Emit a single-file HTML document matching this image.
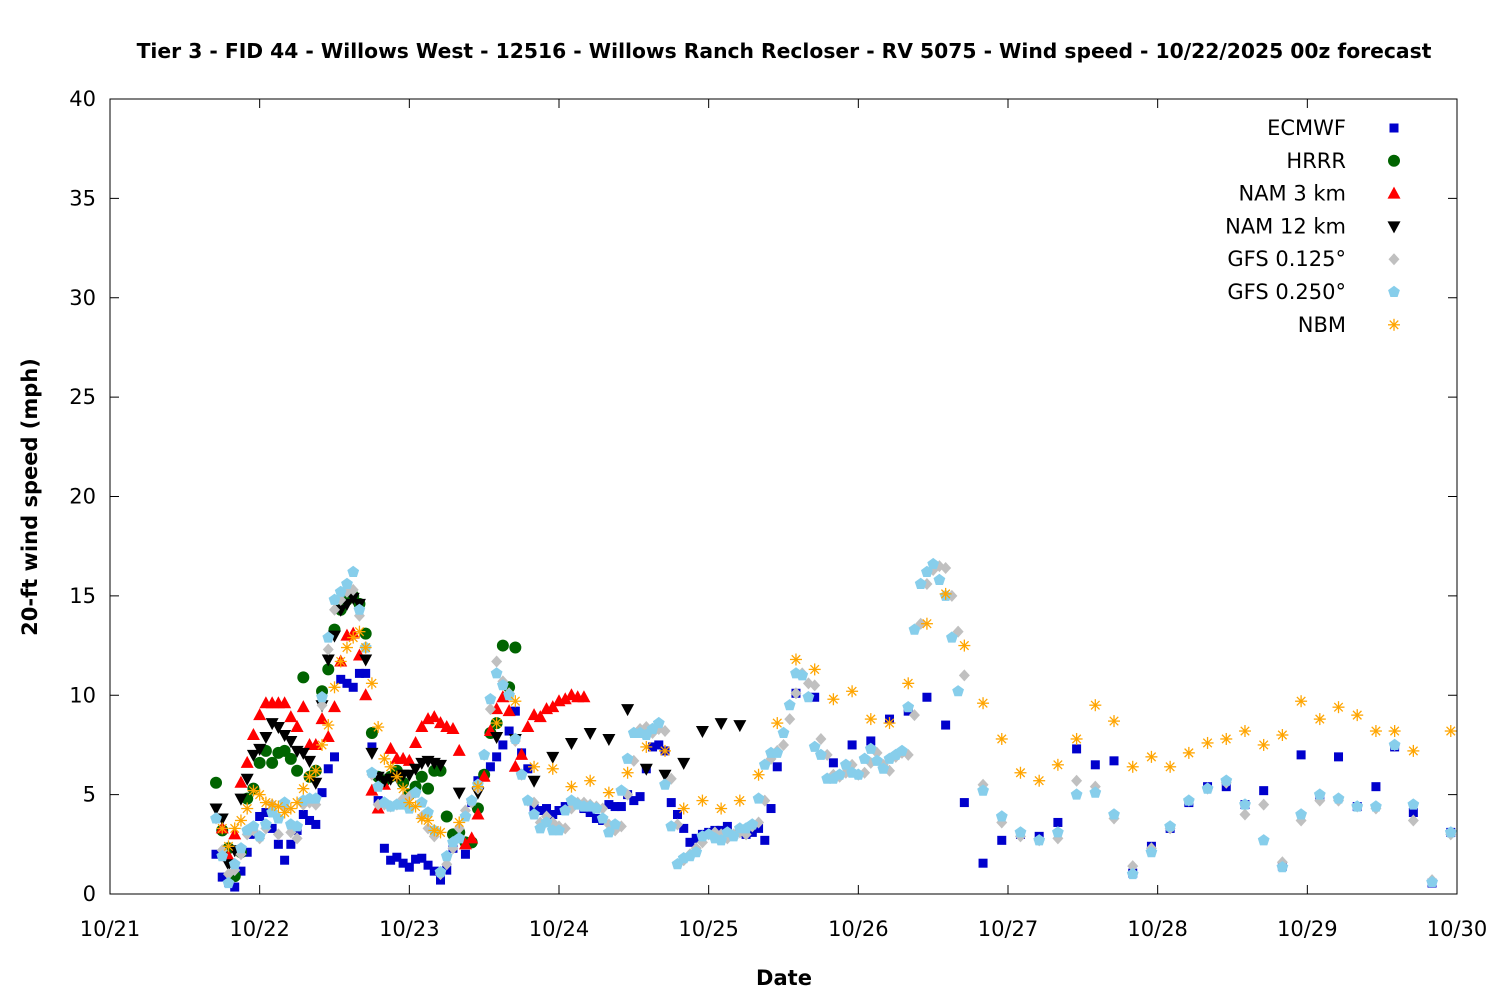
<!DOCTYPE html>
<html><head><meta charset="utf-8"><style>
body{margin:0;background:#fff}
svg text{font-family:"DejaVu Sans","Liberation Sans",sans-serif}
</style></head><body>
<svg id="chart" width="1500" height="1000" viewBox="0 0 1500 1000" xmlns="http://www.w3.org/2000/svg">
<rect width="1500" height="1000" fill="#fff"/>
<text x="784" y="58" font-size="20.3" font-weight="bold" text-anchor="middle">Tier 3 - FID 44 - Willows West - 12516 - Willows Ranch Recloser - RV 5075 - Wind speed - 10/22/2025 00z forecast</text>
<text transform="translate(37,497) rotate(-90)" font-size="21" font-weight="bold" text-anchor="middle">20-ft wind speed (mph)</text>
<text x="784" y="985" font-size="21" font-weight="bold" text-anchor="middle">Date</text>
<g id="axes"></g>
<g id="marks"></g>
<g id="legend"></g>
<rect x="110" y="99" width="1347" height="795" fill="none" stroke="#000" stroke-width="1"/>
</svg>
<script>
const xTickLabels=["10/21","10/22","10/23","10/24","10/25","10/26","10/27","10/28","10/29","10/30"];
const yTickValues=[0,5,10,15,20,25,30,35,40];
const seriesNames=["ECMWF","HRRR","NAM 3 km","NAM 12 km","GFS 0.125°","GFS 0.250°","NBM"];
const ecmwfHourlyStart=17;
const ecmwfHourly=[2.0,0.85,0.6,0.35,1.15,2.1,3.0,3.9,4.1,3.3,2.5,1.7,2.5,3.2,4.0,3.7,3.5,5.1,6.3,6.9,10.8,10.6,10.4,11.1,11.1,7.4,4.7,2.3,1.7,1.85,1.55,1.35,1.75,1.8,1.45,1.15,0.7,1.2,2.3,3.1,2.0,4.6,5.7,6.0,6.4,6.9,7.5,8.2,9.2,7.1,6.3,4.3,4.2,4.3,4.0,4.2,4.4,4.6,4.5,4.3,4.1,3.8,3.7,4.5,4.4,4.4,5.0,4.7,4.9,6.3,7.4,7.5,7.2,4.6,4.0,3.3,2.6,2.8,3.0,3.1,3.2,3.2,3.4,3.0,3.1,3.0,3.1,3.3,2.7,4.3,6.4];
const ecmwf3hStart=110;
const ecmwf3h=[10.1,9.9,6.6,7.5,7.7,8.8,9.2,9.9,8.5,4.6,1.55,2.7,3.0,2.9,3.6,7.3,6.5,6.7,1.05,2.4,3.3,4.6,5.4,5.4,4.5,5.2,1.4,7.0,4.9,6.9,4.4,5.4,7.4,4.1,0.55,3.1];
const hrrrHourlyStart=17;
const hrrrHourly=[5.6,3.2,2.3,0.9,2.1,4.8,5.3,6.6,7.2,6.6,7.1,7.2,6.8,6.2,10.9,5.9,6.2,10.2,11.3,13.3,14.3,14.8,15.0,14.6,13.1,8.1,5.9,5.7,5.9,6.2,5.6,5.0,5.4,5.9,5.3,6.2,6.2,3.9,3.0,3.1,2.6,2.6,4.3,6.0,8.1,8.6,12.5,10.4,12.4];
const nam3HourlyStart=18;
const nam3Hourly=[3.3,1.9,3.0,5.6,6.6,8.0,9.0,9.6,9.6,9.6,9.6,8.9,8.4,9.4,7.5,7.5,8.8,7.9,9.4,11.7,13.0,13.1,12.0,10.0,5.2,4.3,5.5,7.3,6.8,6.8,6.7,7.6,8.4,8.8,8.9,8.6,8.4,8.3,7.2,2.5,2.8,4.0,5.9,8.2,9.3,9.9,9.2,6.4,7.0,8.4,9.0,8.9,9.3,9.4,9.7,9.8,10.0,9.9,9.9];
const nam12HourlyStart=17;
const nam12Hourly=[4.3,3.8,1.5,2.2,4.8,5.8,7.0,7.3,7.9,8.6,8.4,8.0,7.7,7.2,7.1,6.7,5.6,9.5,11.8,13.0,14.3,14.6,14.9,14.6,11.8,7.1,5.9,5.7,5.8,5.9,6.0,6.0,6.3,6.6,6.7,6.6,6.5];
const nam123hStart=56;
const nam123h=[5.1,5.1,7.9,7.8,5.7,6.9,7.6,8.1,7.8,9.3,6.3,6.0,6.6,8.2,8.6,8.5];
const gfs125HourlyStart=17;
const gfs125Hourly=[3.8,2.2,1.0,1.2,2.0,3.0,3.2,2.8,3.3,4.5,3.0,4.4,3.1,2.8,4.5,4.6,4.5,9.5,12.3,14.3,14.8,15.2,15.3,14.0,12.4,6.0,4.5,4.5,4.4,4.5,4.8,4.9,5.1,3.9,3.3,2.9,1.0,1.5,2.3,3.3,4.2,4.6,5.3,7.0,9.3,11.7,10.7,10.1,7.7,6.0,4.7,4.6,3.6,3.9,3.6,3.4,3.3,4.3,4.6,4.6,4.5,4.4,4.3,3.5,3.2,3.4,5.0,6.7,8.3,8.4,8.1,8.3,8.2,5.8,3.5,1.7,2.0,2.3,2.6,3.0,3.1,3.0,2.8,3.0,3.1,3.0,3.4,3.6,4.7,6.8,7.2,7.5,8.8,10.1,11.1,10.6,10.5,7.8,7.0,6.0,5.9,6.1,6.5,6.0,6.1,6.6,7.1,6.5,6.2,6.9,7.1,7.0,9.0,13.6,15.6,16.3,16.5,16.4,15.0,13.2,11.0];
const gfs1253hStart=140;
const gfs1253h=[5.5,3.6,2.9,2.7,2.8,5.7,5.4,3.8,1.4,2.3,3.3,4.7,5.3,5.6,4.0,4.5,1.6,3.7,4.7,4.7,4.4,4.3,7.5,3.7,0.7,3.0];
const gfs25HourlyStart=17;
const gfs25Hourly=[3.8,1.9,0.55,1.5,2.3,3.2,3.4,2.9,3.5,4.1,3.8,4.6,3.5,3.4,4.7,4.8,4.8,9.9,12.9,14.8,15.2,15.6,16.2,14.3,12.4,6.1,5.4,4.6,4.4,4.5,4.5,4.3,5.1,4.6,4.1,3.2,1.1,1.9,2.6,2.8,3.9,4.7,5.5,7.0,9.8,11.1,10.5,10.0,7.8,6.0,4.7,4.0,3.3,3.6,3.2,3.2,4.2,4.7,4.5,4.4,4.4,4.3,3.8,3.1,3.5,5.2,6.8,8.1,8.1,8.0,8.3,8.6,5.5,3.4,1.5,1.8,1.9,2.1,2.9,3.0,2.8,2.7,3.1,2.9,3.3,3.3,3.5,4.8,6.5,7.1,7.1,8.1,9.5,11.1,11.0,9.9,7.4,7.0,5.8,5.8,6.0,6.5,6.1,6.0,6.8,7.3,6.7,6.3,6.8,7.0,7.2,9.4,13.3,15.6,16.2,16.6,15.8,15.0,12.9,10.2];
const gfs253hStart=140;
const gfs253h=[5.2,3.9,3.1,2.7,3.1,5.0,5.1,4.0,1.0,2.1,3.4,4.7,5.3,5.7,4.5,2.7,1.35,4.0,5.0,4.8,4.4,4.4,7.5,4.5,0.6,3.1];
const nbmHourlyStart=18;
const nbmHourly=[3.3,2.4,3.3,3.7,4.3,5.2,5.0,4.6,4.5,4.4,4.1,4.3,4.6,5.3,5.9,6.2,7.5,8.5,10.4,11.7,12.4,12.9,13.2,12.4,10.6,8.4,6.8,6.4,5.9,5.3,4.6,4.4,3.8,3.7,3.2,3.1];
const nbm3hStart=56;
const nbm3h=[3.6,5.4,8.6,9.7,6.4,6.3,5.4,5.7,5.1,6.1,7.4,7.2,4.3,4.7,4.3,4.7,6.0,8.6,11.8,11.3,9.8,10.2,8.8,8.6,10.6,13.6,15.1,12.5,9.6,7.8,6.1,5.7,6.5,7.8,9.5,8.7,6.4,6.9,6.4,7.1,7.6,7.8,8.2,7.5,8.0,9.7,8.8,9.4,9.0,8.2,8.2,7.2,null,8.2];

const NS="http://www.w3.org/2000/svg";
const X0=110,X1=1457,Y0=894,Y1=99,HOURS=216,YMAX=40;
function xS(h){return X0+(X1-X0)*h/HOURS;}
function yS(v){return Y0-(Y0-Y1)*v/YMAX;}
function mk(tag,attrs,parent){const e=document.createElementNS(NS,tag);for(const k in attrs)e.setAttribute(k,attrs[k]);parent.appendChild(e);return e;}
const axes=document.getElementById('axes');
xTickLabels.forEach((lab,i)=>{
  const x=xS(i*24);
  const t=mk('line',{x1:x,x2:x,y1:Y0,y2:Y0-9,stroke:'#000'},axes);
  
  
  const t2=mk('line',{x1:x,x2:x,y1:Y1,y2:Y1+9,stroke:'#000'},axes);
  
  
  const tx=mk('text',{x:x,y:936,'font-size':21,'text-anchor':'middle'},axes);
  tx.textContent=lab;
  
  
});
yTickValues.forEach(v=>{
  const y=yS(v);
  const t=mk('line',{x1:X0,x2:X0+9,y1:y,y2:y,stroke:'#000'},axes);
  
  
  const t2=mk('line',{x1:X1,x2:X1-9,y1:y,y2:y,stroke:'#000'},axes);
  
  
  const tx=mk('text',{x:96,y:y+7,'font-size':21,'text-anchor':'end'},axes);
  tx.textContent=v;
  
  
});
function pentagon(cx,cy,r){let p=[];for(let i=0;i<5;i++){const a=-Math.PI/2+i*2*Math.PI/5;p.push((cx+r*Math.cos(a)).toFixed(1)+','+(cy+r*Math.sin(a)).toFixed(1));}return p.join(' ');}
function marker(kind,cx,cy,parent){
  let e;
  if(kind===0){e=mk('rect',{x:cx-4.5,y:cy-4.5,width:9,height:9,fill:'#0000cc'},parent);}
  else if(kind===1){e=mk('circle',{cx:cx,cy:cy,r:6,fill:'#006400'},parent);}
  else if(kind===2){e=mk('polygon',{points:`${cx},${cy-7} ${cx-6.5},${cy+5} ${cx+6.5},${cy+5}`,fill:'#ff0000'},parent);}
  else if(kind===3){e=mk('polygon',{points:`${cx},${cy+7} ${cx-6.5},${cy-5} ${cx+6.5},${cy-5}`,fill:'#000'},parent);}
  else if(kind===4){e=mk('polygon',{points:`${cx},${cy-6} ${cx+5.5},${cy} ${cx},${cy+6} ${cx-5.5},${cy}`,fill:'#c0c0c0'},parent);}
  else if(kind===5){e=mk('polygon',{points:pentagon(cx,cy,6.2),fill:'#87ceeb'},parent);}
  else {const g=mk('g',{stroke:'#ffa500','stroke-width':1.3},parent);
    for(let i=0;i<4;i++){const a=i*Math.PI/4;mk('line',{x1:cx-6*Math.cos(a),y1:cy-6*Math.sin(a),x2:cx+6*Math.cos(a),y2:cy+6*Math.sin(a)},g);}
    e=g;}
  return e;
}
const marks=document.getElementById('marks');
const seriesSegs=[
  [[ecmwfHourlyStart,1,ecmwfHourly],[ecmwf3hStart,3,ecmwf3h]],
  [[hrrrHourlyStart,1,hrrrHourly]],
  [[nam3HourlyStart,1,nam3Hourly]],
  [[nam12HourlyStart,1,nam12Hourly],[nam123hStart,3,nam123h]],
  [[gfs125HourlyStart,1,gfs125Hourly],[gfs1253hStart,3,gfs1253h]],
  [[gfs25HourlyStart,1,gfs25Hourly],[gfs253hStart,3,gfs253h]],
  [[nbmHourlyStart,1,nbmHourly],[nbm3hStart,3,nbm3h]]
];
seriesSegs.forEach((segs,k)=>{
  const g=mk('g',{},marks);
  
  
  segs.forEach(([start,step,vals])=>{
    vals.forEach((v,i)=>{
      if(v===null)return;
      const m=marker(k,xS(start+i*step),yS(v),g);
      
      
    });
  });
});
const legend=document.getElementById('legend');
seriesNames.forEach((n,k)=>{
  const y=128+k*32.8;
  const g=mk('g',{},legend);
  
  
  const t=mk('text',{x:1346,y:y+7,'font-size':21,'text-anchor':'end'},g);
  t.textContent=n;
  marker(k,1394,y,g);
});
</script>
</body></html>
